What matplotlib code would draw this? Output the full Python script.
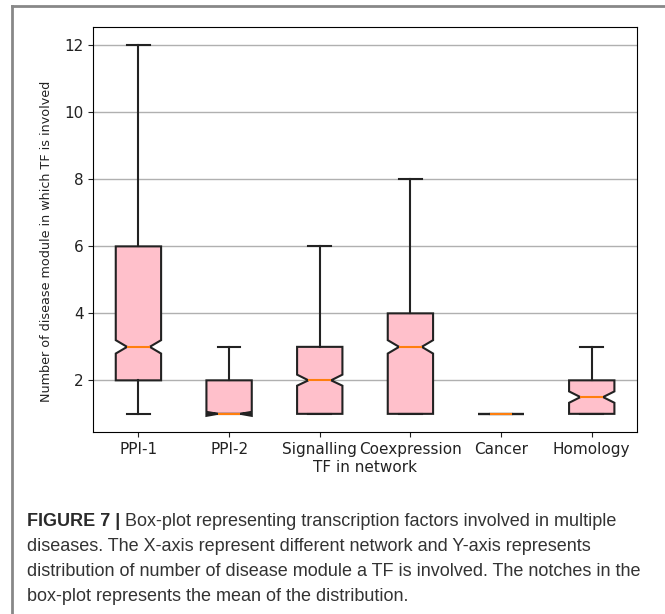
import matplotlib.pyplot as plt
import matplotlib.lines as mlines

# box plot stats
networks = ['PPI-1', 'PPI-2', 'Signalling', 'Coexpression', 'Cancer', 'Homology']
whisker_low = [1, 1, 1, 1, 1, 1]
q1 = [2, 1, 1, 1, 1, 1]
median = [3, 1, 2, 3, 1, 1.5]
q3 = [6, 2, 3, 4, 1, 2]
whisker_high = [12, 3, 6, 8, 1, 3]
notch_low = [2.8, 0.94, 1.84, 2.8, 1, 1.33]
notch_high = [3.2, 1.06, 2.17, 3.2, 1, 1.67]

caption_bold = 'FIGURE 7 |'
caption_lines = [
    ' Box-plot representing transcription factors involved in multiple',
    'diseases. The X-axis represent different network and Y-axis represents',
    'distribution of number of disease module a TF is involved. The notches in the',
    'box-plot represents the mean of the distribution.',
]


def BoxFigure():
    fig = plt.figure(figsize=(6.65, 6.14), dpi=100)
    ax = fig.add_axes([0.140, 0.296, 0.818, 0.660])

    stats = []
    for i in range(len(networks)):
        stats.append({
            'label': networks[i],
            'whislo': whisker_low[i], 'q1': q1[i], 'med': median[i],
            'q3': q3[i], 'whishi': whisker_high[i],
            'cilo': notch_low[i], 'cihi': notch_high[i], 'fliers': [],
        })

    lw = 1.5
    ax.bxp(stats, shownotches=True, patch_artist=True, showfliers=False,
           boxprops=dict(facecolor='pink', edgecolor='#222222', linewidth=lw),
           medianprops=dict(color='#ff7f0e', linewidth=lw),
           whiskerprops=dict(color='#222222', linewidth=lw),
           capprops=dict(color='#222222', linewidth=lw))

    ax.set_ylim(0.45, 12.55)
    ax.set_yticks([2, 4, 6, 8, 10, 12])
    ax.yaxis.grid(True, color='#b0b0b0', linewidth=1)
    ax.set_axisbelow(True)
    ax.tick_params(labelsize=11, colors='#222222')
    ax.set_xlabel('TF in network', fontsize=11, labelpad=2, color='#222222')
    ax.set_ylabel('Number of disease module in which TF is involved',
                  fontsize=9.2, color='#222222')
    ax.yaxis.set_label_coords(-0.074, 0.47)

    # frame around the figure panel (top and left only)
    fig.add_artist(mlines.Line2D([12 / 665, 1], [1 - 6 / 614, 1 - 6 / 614],
                                 color='#888888', linewidth=2))
    fig.add_artist(mlines.Line2D([12 / 665, 12 / 665], [0, 1 - 6 / 614],
                                 color='#888888', linewidth=2))

    # caption
    cap_font = ['Liberation Sans', 'DejaVu Sans']
    x0 = 27 / 665
    y0 = 1 - 521 / 614
    step = 25.3 / 614
    t = fig.text(x0, y0, caption_bold, fontsize=13, fontweight='bold',
                 family=cap_font, color='#2a2a2a', va='center')
    fig.canvas.draw()
    bb = t.get_window_extent()
    fig.text(bb.x1 / (6.65 * 100), y0, caption_lines[0], fontsize=13,
             family=cap_font, color='#333333', va='center')
    for k, line in enumerate(caption_lines[1:]):
        fig.text(x0, y0 - (k + 1) * step, line, fontsize=13,
                 family=cap_font, color='#333333', va='center')

    fig.savefig('out.png', dpi=100)


def main():
    BoxFigure()


if __name__ == "__main__":
    main()
